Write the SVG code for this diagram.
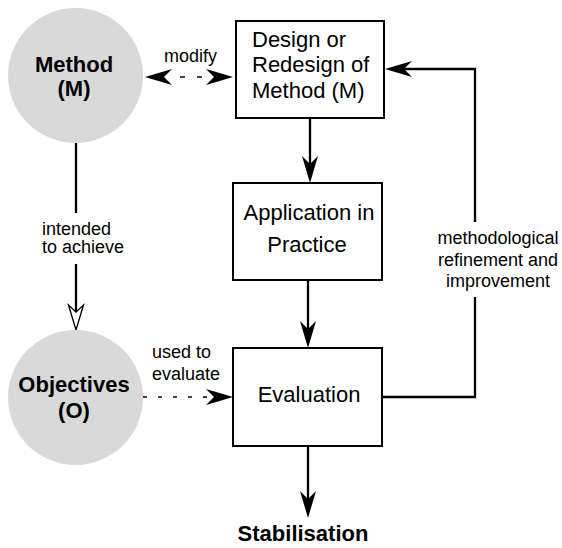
<svg xmlns="http://www.w3.org/2000/svg" width="562" height="548" viewBox="0 0 562 548">
  <style>
    .bg { fill: #ffffff; }
    .concept { fill: #d9d9d9; stroke: none; }
    .step { fill: #ffffff; stroke: #000000; stroke-width: 2; }
    .title { font-family: "Liberation Sans", Arial, sans-serif; font-weight: bold; font-size: 22px; fill: #000000; text-anchor: middle; }
    .boxtext { font-family: "Liberation Sans", Arial, sans-serif; font-size: 22px; fill: #000000; }
    .label { font-family: "Liberation Sans", Arial, sans-serif; font-size: 18px; fill: #000000; }
    .flow { fill: none; stroke: #000000; stroke-width: 2.3; }
    .dashed { fill: none; stroke: #000000; stroke-width: 1.3; }
    .headfill { fill: #000000; }
  </style>
  <defs>
    <!-- filled barbed head; reference point sits at the notch -->
    <marker id="head" viewBox="0 0 27 16" refX="8" refY="8" markerWidth="27" markerHeight="16" markerUnits="userSpaceOnUse" orient="auto">
      <path d="M27,8 L0,0 L8,8 L0,16 Z" fill="#000000"/>
    </marker>
  </defs>

  <rect class="bg" x="0" y="0" width="562" height="548"/>

  <g id="connectors">
    <!-- modify (bidirectional, dashed) -->
    <line class="dashed" x1="168" y1="77" x2="210" y2="77" stroke-dasharray="5 12" stroke-dashoffset="5"/>
    <polygon class="headfill" points="145,77 172,69 164,77 172,85"/>
    <polygon class="headfill" points="233,77 206,69 214,77 206,85"/>
    <!-- intended to achieve -->
    <line class="flow" x1="76" y1="143" x2="76" y2="213"/>
    <line class="flow" x1="76" y1="264" x2="76" y2="312"/>
    <polygon points="76,330 68.5,305 76,312 83.5,305" fill="#ffffff" stroke="#000000" stroke-width="1.3"/>
    <!-- used to evaluate (dashed) -->
    <line class="dashed" x1="143" y1="397" x2="214" y2="397" stroke-dasharray="4 11"/>
    <polygon class="headfill" points="233,397 206,389 214,397 206,405"/>
    <!-- main flow -->
    <line class="flow" x1="310" y1="118" x2="310" y2="164" marker-end="url(#head)"/>
    <line class="flow" x1="308" y1="280" x2="308" y2="329" marker-end="url(#head)"/>
    <line class="flow" x1="308" y1="446" x2="308" y2="499" marker-end="url(#head)"/>
    <!-- refinement loop -->
    <polyline class="flow" points="382,397 475,397 475,297"/>
    <polyline class="flow" points="475,222 475,69 404,69" marker-end="url(#head)"/>
  </g>

  <g id="method">
    <circle class="concept" cx="75.5" cy="75.5" r="67.5"/>
    <text class="title" x="74" y="72">Method</text>
    <text class="title" x="74" y="96">(M)</text>
  </g>

  <g id="objectives">
    <circle class="concept" cx="75.5" cy="397.5" r="67.5"/>
    <text class="title" x="74" y="392">Objectives</text>
    <text class="title" x="74" y="418">(O)</text>
  </g>

  <g id="design">
    <rect class="step" x="236" y="21" width="148" height="97"/>
    <text class="boxtext" x="252" y="47">Design or</text>
    <text class="boxtext" x="252" y="72">Redesign of</text>
    <text class="boxtext" x="252" y="98">Method (M)</text>
  </g>

  <g id="application">
    <rect class="step" x="233" y="183" width="149" height="97"/>
    <text class="boxtext" x="309" y="220" text-anchor="middle">Application in</text>
    <text class="boxtext" x="307" y="252" text-anchor="middle">Practice</text>
  </g>

  <g id="evaluation">
    <rect class="step" x="233" y="348" width="149" height="98"/>
    <text class="boxtext" x="309" y="402" text-anchor="middle">Evaluation</text>
  </g>

  <g id="stabilisation">
    <text class="title" x="303" y="541">Stabilisation</text>
  </g>

  <g id="labels">
    <text class="label" x="190.5" y="62" text-anchor="middle">modify</text>
    <text class="label" x="42" y="235">intended</text>
    <text class="label" x="42" y="253">to achieve</text>
    <text class="label" x="152" y="358">used to</text>
    <text class="label" x="152" y="380">evaluate</text>
    <text class="label" x="498" y="244" text-anchor="middle">methodological</text>
    <text class="label" x="498" y="266" text-anchor="middle">refinement and</text>
    <text class="label" x="498" y="287" text-anchor="middle">improvement</text>
  </g>
</svg>
